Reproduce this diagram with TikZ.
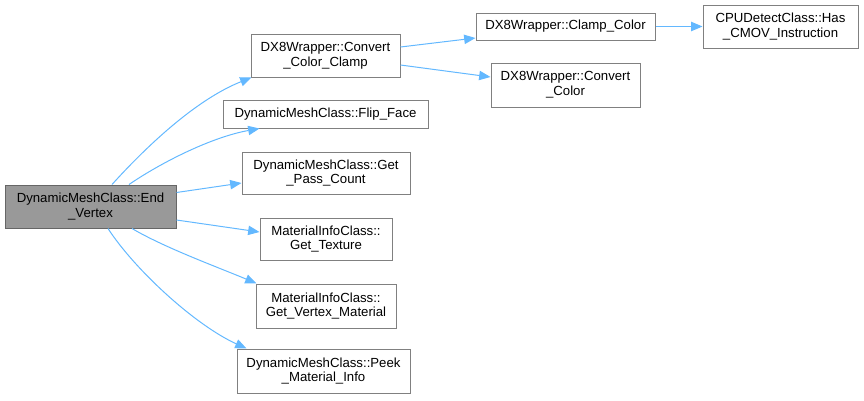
\documentclass[tikz,border=0pt]{standalone}
\usepackage{fontspec}
\setmainfont{Liberation Sans}
\usetikzlibrary{arrows.meta,calc}
\definecolor{edgeblue}{HTML}{63B8FF}
\definecolor{boxline}{HTML}{808080}
\definecolor{rootfill}{HTML}{999999}
\definecolor{rootline}{HTML}{666666}
\begin{document}
\begin{tikzpicture}[x=0.75pt,y=-0.75pt,
  fnbox/.style={draw=boxline,fill=white,line width=0.75pt,rectangle,inner sep=0pt,align=center,
    font=\fontsize{9.9}{11.2}\selectfont},
  rootbox/.style={fnbox,draw=rootline,fill=rootfill},
  call/.style={draw=edgeblue,line width=0.75pt,-{Triangle[length=8.5pt,width=7pt]}}]
\useasboundingbox (0,0) rectangle (864,400);
\node[rootbox,minimum width=128.25pt,minimum height=32.25pt] (main) at (90.5,206.5) {DynamicMeshClass::End\\\_Vertex};
\node[fnbox,minimum width=111.75pt,minimum height=32.25pt] (ccc) at (325.5,55.5) {DX8Wrapper::Convert\\\_Color\_Clamp};
\node[fnbox,minimum width=153.75pt,minimum height=21pt] (flip) at (325.5,114) {DynamicMeshClass::Flip\_Face};
\node[fnbox,minimum width=126pt,minimum height=31.5pt] (gpc) at (326,173) {DynamicMeshClass::Get\\\_Pass\_Count};
\node[fnbox,minimum width=99pt,minimum height=31.5pt] (gt) at (326,239) {MaterialInfoClass::\\Get\_Texture};
\node[fnbox,minimum width=105pt,minimum height=33pt] (gvm) at (326,306) {MaterialInfoClass::\\Get\_Vertex\_Material};
\node[fnbox,minimum width=129.75pt,minimum height=33pt] (peek) at (323.5,371) {DynamicMeshClass::Peek\\\_Material\_Info};
\node[fnbox,minimum width=134.25pt,minimum height=20.25pt] (clamp) at (565.5,26.5) {DX8Wrapper::Clamp\_Color};
\node[fnbox,minimum width=111.75pt,minimum height=33pt] (cc) at (565.5,85) {DX8Wrapper::Convert\\\_Color};
\node[fnbox,minimum width=116.25pt,minimum height=32.25pt] (cpu) at (780.5,26.5) {CPUDetectClass::Has\\\_CMOV\_Instruction};

\draw[call] ($(main.north)+(21.5,0)$) .. controls (145,148) and (195,100) .. ($(ccc.south west)+(1,0)$);
\draw[call] ($(main.north)+(38.5,0)$) .. controls (162,162) and (212,137) .. ($(flip.south west)+(37,0)$);
\draw[call] ($(main.east)+(0,-14)$) -- ($(gpc.west)+(0,10)$);
\draw[call] ($(main.east)+(0,13.5)$) -- ($(gt.west)+(0,-7)$);
\draw[call] ($(main.south)+(41.5,0)$) .. controls (165,248) and (220,268) .. ($(gvm.north west)+(1,0)$);
\draw[call] ($(main.south)+(17.5,0)$) .. controls (135,270) and (195,325) .. ($(peek.north west)+(10,0)$);
\draw[call] ($(ccc.east)+(0,-8.5)$) -- ($(clamp.west)+(0,11.5)$);
\draw[call] ($(ccc.east)+(0,9.5)$) -- ($(cc.west)+(0,-8)$);
\draw[call] (clamp.east) -- (cpu.west);
\end{tikzpicture}
\end{document}
